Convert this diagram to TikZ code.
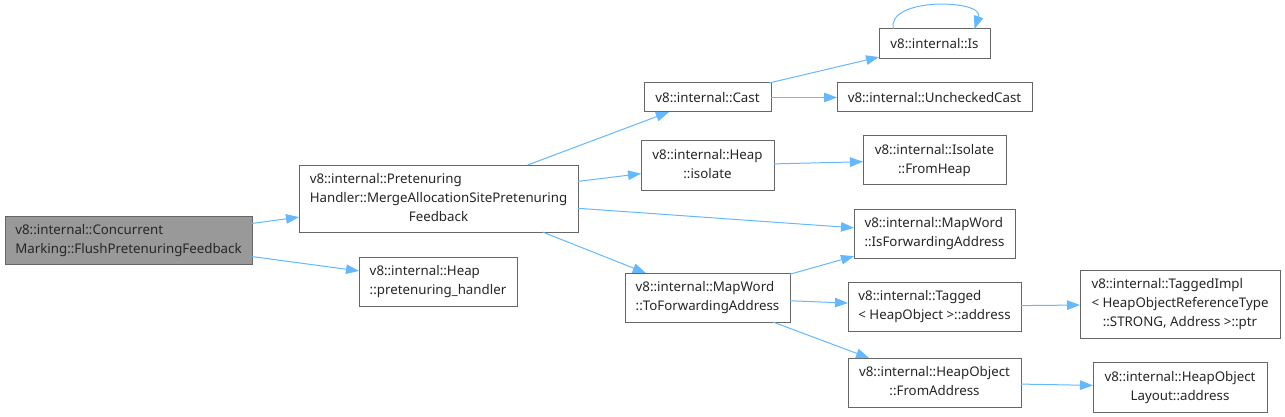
\documentclass[tikz,border=0pt]{standalone}
\usepackage{fontspec}
\setmainfont{Noto Sans}
\usetikzlibrary{arrows.meta}
\definecolor{edgeblue}{HTML}{63B8FF}
\definecolor{nodeborder}{HTML}{666666}
\definecolor{mainfill}{HTML}{999999}
\newcommand{\ml}[2]{\begin{tabular}{@{}l@{}}#1\\\multicolumn{1}{@{}c@{}}{#2}\end{tabular}}
\tikzset{
  fn/.style={draw=nodeborder, line width=1pt, fill=white, inner sep=0pt, outer sep=0pt,
    font=\fontsize{13.3}{19}\selectfont, text=black!85, align=center},
  edge/.style={draw=edgeblue, line width=1pt, -{Triangle[length=13pt,width=9.5pt]}},
}
\begin{document}
\begin{tikzpicture}[x=1pt,y=-1pt]
\useasboundingbox (0,0) rectangle (1285,417);
\node[fn, fill=mainfill, minimum width=247pt, minimum height=48pt] (n1) at (128.5,240) {\ml{v8::internal::Concurrent}{Marking::FlushPretenuringFeedback}};
\node[fn, minimum width=279pt, minimum height=67pt] (n2) at (438.5,198.5) {\ml{v8::internal::Pretenuring\\Handler::MergeAllocationSitePretenuring}{Feedback}};
\node[fn, minimum width=158pt, minimum height=49pt] (hph) at (438,281.5) {\ml{v8::internal::Heap}{::pretenuring\_handler}};
\node[fn, minimum width=127pt, minimum height=29pt] (cast) at (707.5,97.5) {v8::internal::Cast};
\node[fn, minimum width=133pt, minimum height=49pt] (hiso) at (707.5,165.5) {\ml{v8::internal::Heap}{::isolate}};
\node[fn, minimum width=165pt, minimum height=49pt] (tofa) at (707.5,297.5) {\ml{v8::internal::MapWord}{::ToForwardingAddress}};
\node[fn, minimum width=111pt, minimum height=30pt] (is) at (934.5,44) {v8::internal::Is};
\node[fn, minimum width=195pt, minimum height=29pt] (uc) at (934.5,97.5) {v8::internal::UncheckedCast};
\node[fn, minimum width=143pt, minimum height=48pt] (fh) at (934.5,160) {\ml{v8::internal::Isolate}{::FromHeap}};
\node[fn, minimum width=161pt, minimum height=49pt] (isfa) at (934.5,233.5) {\ml{v8::internal::MapWord}{::IsForwardingAddress}};
\node[fn, minimum width=173pt, minimum height=49pt] (tag) at (934.5,306.5) {\ml{v8::internal::Tagged}{< HeapObject >::address}};
\node[fn, minimum width=173pt, minimum height=49pt] (fa) at (934.5,382.5) {\ml{v8::internal::HeapObject}{::FromAddress}};
\node[fn, minimum width=200pt, minimum height=68pt] (ti) at (1180,304) {\ml{v8::internal::TaggedImpl\\< HeapObjectReferenceType}{::STRONG, Address >::ptr}};
\node[fn, minimum width=174pt, minimum height=50pt] (lay) at (1180,387) {\ml{v8::internal::HeapObject}{Layout::address}};
\draw[edge] (n1) -- (n2);
\draw[edge] (n1) -- (hph);
\draw[edge] (n2) -- (cast);
\draw[edge] (n2) -- (hiso);
\draw[edge] (n2) -- (isfa);
\draw[edge] ([xshift=104pt]n2.south) -- (tofa);
\draw[edge] (cast) -- (is);
\draw[edge] (cast) -- (uc);
\draw[edge] (hiso) -- (fh);
\draw[edge] (tofa) -- (isfa);
\draw[edge] (tofa) -- (tag);
\draw[edge] (tofa) -- (fa);
\draw[edge] (tag) -- (ti);
\draw[edge] (fa) -- (lay);
\draw[edge] ([xshift=-41pt]is.north) .. controls +(-8,-32) and +(10,-30) .. ([xshift=40pt]is.north);
\end{tikzpicture}
\end{document}
